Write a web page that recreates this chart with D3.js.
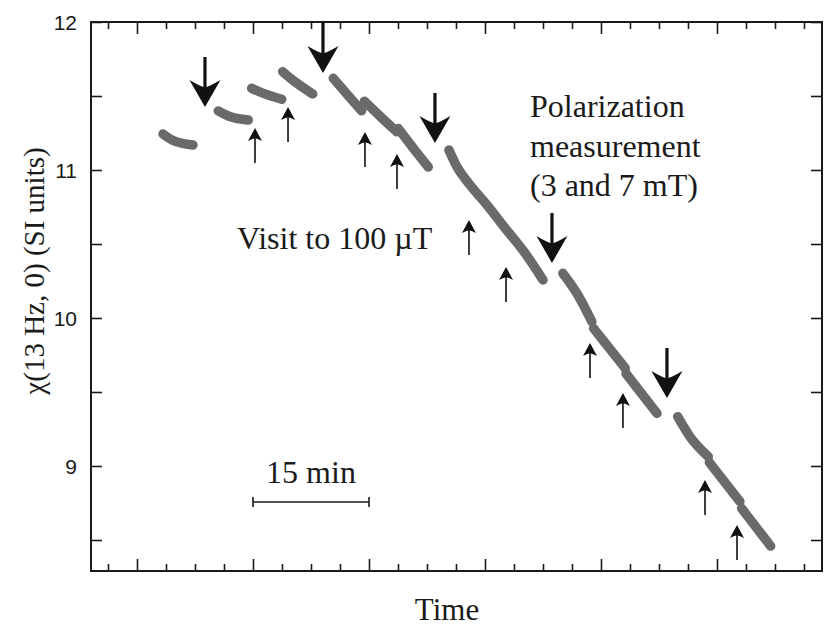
<!DOCTYPE html>
<meta charset="utf-8">
<head>
  <title>Susceptibility vs time</title>
  <script src="https://cdn.jsdelivr.net/npm/d3@7"></script>
  <style>
    body { margin: 0; background: #fff; }
    .serif { font-family: "Liberation Serif", "Times New Roman", serif; fill: #1a1a1a; }
    .ticklab { font-family: "Liberation Sans", Arial, sans-serif; font-size: 21px; fill: #1a1a1a; }
  </style>
</head>
<body>
<div id="chart"></div>
<script>
// time in minutes, chi in SI units; each run is a list of [t, chi]
var run1 = [[3.36, 11.243], [4.53, 11.203], [7.24, 11.169]];
var run2 = [[10.51, 11.399], [11.81, 11.365], [14.39, 11.338]];
var run3 = [[14.83, 11.552], [16.55, 11.514], [18.71, 11.478]];
var run4 = [[18.84, 11.664], [20.0, 11.613], [22.72, 11.514]];
var run5a = [[25.38, 11.62], [27.2, 11.51], [29.05, 11.40]];
var run5b = [[29.4, 11.465], [31.5, 11.36], [33.58, 11.259]];
var run5c = [[33.79, 11.28], [35.7, 11.15], [37.67, 11.02]];
var run6 = [[40.34, 11.135], [41.25, 11.034], [43.06, 10.899], [45.26, 10.764],
            [47.59, 10.608], [50.17, 10.439], [52.5, 10.257]];
var run7a = [[55.07, 10.302], [56.88, 10.167], [58.82, 9.975]];
var run7b = [[59.04, 9.93], [63.14, 9.66]];
var run7c = [[63.23, 9.625], [67.24, 9.356]];
var run8a = [[69.92, 9.333], [71.51, 9.198], [73.88, 9.063]];
var run8b = [[74.01, 9.025], [77.97, 8.759]];
var run8c = [[78.19, 8.713], [81.94, 8.459]];
var runs = [run1, run2, run3, run4, run5a, run5b, run5c, run6, run7a, run7b, run7c, run8a, run8b, run8c];

// polarization measurements (big arrows), tip positions
var bigArrows = [[8.79, 11.426], [24.05, 11.655], [38.53, 11.182], [53.66, 10.372], [68.53, 9.459]];
// visits to 100 uT (small arrows), tip positions
var smallArrows = [[15.26, 11.284], [19.53, 11.426], [29.48, 11.257], [33.62, 11.108], [42.93, 10.662],
                   [47.72, 10.345], [58.58, 9.831], [62.84, 9.493], [73.45, 8.905], [77.59, 8.601]];

var yTickLabels = [9, 10, 11, 12];
var scaleBar = [15, 30];   // minutes
var scaleBarChi = 8.757;

var W = 824, H = 635;
var margin = {top: 22, right: 2, bottom: 64, left: 91};

var svg = d3.select("#chart").append("svg")
    .attr("width", W).attr("height", H);

var x = d3.scaleLinear().domain([-5.948, 88.58]).range([margin.left, W - margin.right]);
var y = d3.scaleLinear().domain([8.2905, 12]).range([H - margin.bottom, margin.top]);

var xMajor = d3.range(0, 90, 15);
var xMinor = d3.range(-3.75, 88.6, 3.75).filter(function(t){ return Math.abs(t % 15) > 0.01; });
var yTicks = d3.range(8.5, 12.01, 0.5);

var x0 = x.range()[0], x1 = x.range()[1], y0 = y.range()[0], y1 = y.range()[1];

// axes with inward ticks
function addAxis(axis, tx, ty) {
  var g = svg.append("g").attr("transform", "translate(" + tx + "," + ty + ")").call(axis);
  g.select(".domain").remove();
  g.selectAll("line").attr("stroke", "#1a1a1a").attr("stroke-width", 1.6);
  g.selectAll("text").remove();
  return g;
}
addAxis(d3.axisTop(x).tickValues(xMajor).tickSize(12), 0, y0);
addAxis(d3.axisTop(x).tickValues(xMinor).tickSize(7), 0, y0);
addAxis(d3.axisBottom(x).tickValues(xMajor).tickSize(12), 0, y1);
addAxis(d3.axisBottom(x).tickValues(xMinor).tickSize(7), 0, y1);
addAxis(d3.axisRight(y).tickValues(yTicks).tickSize(11), x0, 0);
addAxis(d3.axisLeft(y).tickValues(yTicks).tickSize(11), x1, 0);

svg.append("rect")
    .attr("x", x0).attr("y", y1)
    .attr("width", x1 - x0).attr("height", y0 - y1)
    .attr("fill", "none").attr("stroke", "#1a1a1a").attr("stroke-width", 2);

svg.append("g").selectAll("text")
    .data(yTickLabels).enter().append("text")
    .attr("class", "ticklab")
    .attr("x", x0 - 14)
    .attr("y", function(d){ return y(d); })
    .attr("dy", "0.36em")
    .attr("text-anchor", "end")
    .text(function(d){ return d; });

// data runs
var line = d3.line().x(function(d){ return x(d[0]); }).y(function(d){ return y(d[1]); })
    .curve(d3.curveMonotoneX);
svg.append("g").selectAll("path")
    .data(runs).enter().append("path")
    .attr("d", line)
    .attr("fill", "none")
    .attr("stroke", "#6a6a6a")
    .attr("stroke-width", 9.5)
    .attr("stroke-linecap", "round")
    .attr("stroke-linejoin", "round");

// big down arrows (tip at origin)
var bigPath = "M0,0 L-15.5,-27 Q-6,-21.5 -1.6,-20 L-1.6,-50 L1.6,-50 L1.6,-20 Q6,-21.5 15.5,-27 Z";
svg.append("g").selectAll("path")
    .data(bigArrows).enter().append("path")
    .attr("d", bigPath)
    .attr("fill", "#111")
    .attr("transform", function(d){ return "translate(" + x(d[0]) + "," + y(d[1]) + ")"; });

// small up arrows
var smallPath = "M0,0 L-7,13 Q-2.5,10.5 -0.8,10.5 L-0.8,35 L0.8,35 L0.8,10.5 Q2.5,10.5 7,13 Z";
svg.append("g").selectAll("path")
    .data(smallArrows).enter().append("path")
    .attr("d", smallPath)
    .attr("fill", "#111")
    .attr("transform", function(d){ return "translate(" + x(d[0]) + "," + y(d[1]) + ")"; });

// scale bar
var sb = svg.append("g").attr("stroke", "#1a1a1a").attr("stroke-width", 1.6);
sb.append("line").attr("x1", x(scaleBar[0])).attr("x2", x(scaleBar[1]))
    .attr("y1", y(scaleBarChi)).attr("y2", y(scaleBarChi));
scaleBar.forEach(function(t){
  sb.append("line").attr("x1", x(t)).attr("x2", x(t))
    .attr("y1", y(scaleBarChi) - 5).attr("y2", y(scaleBarChi) + 5);
});
svg.append("text").attr("class", "serif")
    .attr("x", x((scaleBar[0] + scaleBar[1]) / 2)).attr("y", y(scaleBarChi) - 19)
    .attr("text-anchor", "middle").style("font-size", "32px")
    .text("15 min");

// annotations
svg.append("text").attr("class", "serif")
    .attr("x", 237).attr("y", 249).style("font-size", "32px")
    .text("Visit to 100 \u00b5T");

var pol = ["Polarization", "measurement", "(3 and 7 mT)"];
svg.append("g").selectAll("text")
    .data(pol).enter().append("text")
    .attr("class", "serif")
    .attr("x", 530)
    .attr("y", function(d, i){ return 117 + i * 39.5; })
    .style("font-size", "32px")
    .text(function(d){ return d; });

// axis titles
svg.append("text").attr("class", "serif")
    .attr("x", 447).attr("y", 620)
    .attr("text-anchor", "middle").style("font-size", "31px")
    .text("Time");

svg.append("text").attr("class", "serif")
    .attr("transform", "translate(44," + 271 + ") rotate(-90)")
    .attr("text-anchor", "middle").style("font-size", "29px")
    .text("\u03c7(13 Hz, 0) (SI units)");
</script>
</body>
</html>
